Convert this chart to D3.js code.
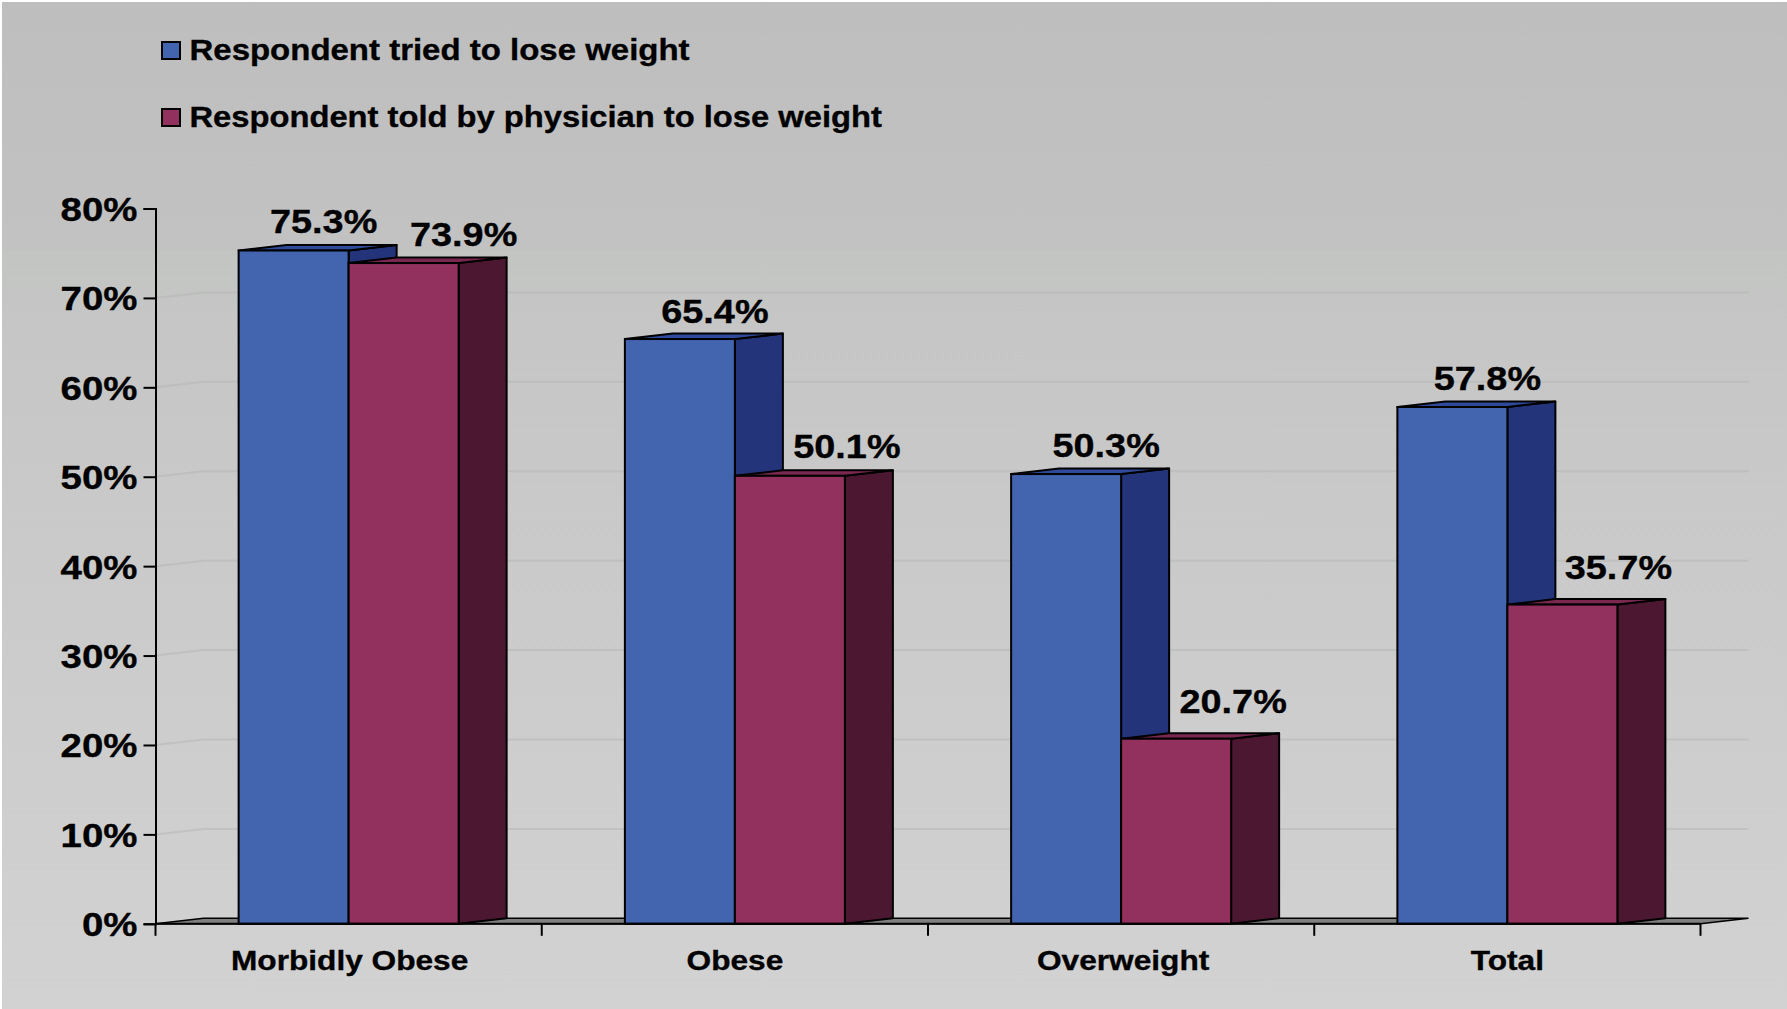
<!DOCTYPE html>
<html lang="en">
<head>
    <meta charset="UTF-8">
    <title>Weight loss attempts</title>
    <script src="https://cdn.jsdelivr.net/npm/d3@7"></script>
    <style>
        html, body { margin: 0; padding: 0; background: #fff; overflow: hidden; }
        svg { display: block; }
        text { font-family: "Liberation Sans", Arial, sans-serif; font-weight: bold; fill: #000; stroke: #000; stroke-width: 0.35; }
    </style>
</head>
<body>
    <div id="chart"></div>
    <script>
        const categories = ['Morbidly Obese', 'Obese', 'Overweight', 'Total'];
        const seriesNames = ['Respondent tried to lose weight', 'Respondent told by physician to lose weight'];
        const triedValues = [75.3, 65.4, 50.3, 57.8];
        const toldValues = [73.9, 50.1, 20.7, 35.7];
        const yTicks = [0, 10, 20, 30, 40, 50, 60, 70, 80];

        // front, side and top faces of each series
        const frontColors = ['#4364ae', '#92305e'];
        const sideColors = ['#24347a', '#4c1730'];
        const topColors = ['#2f4a9a', '#7a2850'];

        // labels in the picture do not sit at a fixed place over the bars
        const labelShift = [[30, 35, 40, 35], [60, 57, 57, 56]];
        const labelLift = [[1, -1, 0, 0], [0, 1, 9, 9]];
        const categoryShift = [1, 0, 2, 0];
        const legendStretch = [1.137, 1.128];

        const width = 1787, height = 1009;
        const plotLeft = 155.5, plotRight = 1700.5, plotBottom = 923.8, plotTop = 208.5;
        const depthX = 48, depthY = 5.5;
        const stretch = 1.13; // the original picture is wider than it should be

        const svg = d3.select('#chart').append('svg')
            .attr('width', width)
            .attr('height', height);

        // there is a faint step in the background just above the 70% line
        const grad = svg.append('defs').append('linearGradient')
            .attr('id', 'bg')
            .attr('x1', 0).attr('y1', 0).attr('x2', 0).attr('y2', 1);
        grad.append('stop').attr('offset', '0%').attr('stop-color', '#bebebe');
        grad.append('stop').attr('offset', '24.6%').attr('stop-color', '#c2c2c2');
        grad.append('stop').attr('offset', '24.7%').attr('stop-color', '#c3c5c3');
        grad.append('stop').attr('offset', '33%').attr('stop-color', '#c5c6c5');
        grad.append('stop').attr('offset', '100%').attr('stop-color', '#d2d2d2');

        svg.append('rect')
            .attr('x', 2).attr('y', 2)
            .attr('width', width - 2).attr('height', height - 2)
            .attr('fill', 'url(#bg)');

        const x = d3.scaleBand().domain(categories).range([plotLeft, plotRight]);
        const barWidth = 110;
        const y = d3.scaleLinear().domain([0, 80]).range([plotBottom, plotTop]);

        // gridlines with the short slanted piece on the left wall, 80% is not visible
        svg.append('g').selectAll('path')
            .data(yTicks.slice(1, -1))
            .enter()
            .append('path')
            .attr('d', d => `M${plotLeft},${y(d)}L${plotLeft + depthX},${y(d) - depthY}L${plotRight + depthX},${y(d) - depthY}`)
            .attr('fill', 'none')
            .attr('stroke', '#b4b6b4')
            .attr('stroke-opacity', 0.5)
            .attr('stroke-width', 2);

        // floor
        svg.append('path')
            .attr('d', `M${plotLeft},${plotBottom}L${plotLeft + depthX},${plotBottom - depthY}L${plotRight + depthX},${plotBottom - depthY}L${plotRight},${plotBottom}Z`)
            .attr('fill', '#808080')
            .attr('stroke', '#000')
            .attr('stroke-width', 1.5);

        const allValues = [triedValues, toldValues];

        allValues.forEach((values, s) => {
            const bars = svg.append('g').selectAll('g')
                .data(values)
                .enter()
                .append('g');

            const x0 = (d, i) => x(categories[i]) + x.bandwidth() / 2 - barWidth + s * barWidth;

            // side
            bars.append('path')
                .attr('d', (d, i) => {
                    const a = x0(d, i) + barWidth;
                    return `M${a},${y(d)}L${a + depthX},${y(d) - depthY}L${a + depthX},${plotBottom - depthY}L${a},${plotBottom}Z`;
                })
                .attr('fill', sideColors[s]);

            // top
            bars.append('path')
                .attr('d', (d, i) => {
                    const a = x0(d, i);
                    return `M${a},${y(d)}L${a + depthX},${y(d) - depthY}L${a + barWidth + depthX},${y(d) - depthY}L${a + barWidth},${y(d)}Z`;
                })
                .attr('fill', topColors[s]);

            bars.selectAll('path')
                .attr('stroke', '#000')
                .attr('stroke-width', 2)
                .attr('stroke-linejoin', 'round');

            // front
            bars.append('rect')
                .attr('x', x0)
                .attr('y', d => y(d))
                .attr('width', barWidth)
                .attr('height', d => plotBottom - y(d))
                .attr('fill', frontColors[s])
                .attr('stroke', '#000')
                .attr('stroke-width', 2);
        });

        // data labels go on top of every bar
        allValues.forEach((values, s) => {
            svg.append('g').selectAll('text')
                .data(values)
                .enter()
                .append('text')
                .attr('text-anchor', 'middle')
                .attr('font-size', 33.5)
                .attr('transform', (d, i) => {
                    const cx = x(categories[i]) + x.bandwidth() / 2 - barWidth / 2 + s * barWidth + labelShift[s][i];
                    return `translate(${cx},${y(d) - 17 - labelLift[s][i]}) scale(${stretch},1)`;
                })
                .text(d => d.toFixed(1) + '%');
        });

        // y axis
        const yAxis = svg.append('g')
            .attr('transform', `translate(${plotLeft},0)`)
            .call(d3.axisLeft(y).tickValues(yTicks).tickSize(12).tickFormat(d => d + '%'));
        yAxis.selectAll('path, line').attr('stroke', '#000').attr('stroke-width', 2);
        yAxis.selectAll('text')
            .attr('x', null).attr('dy', null)
            .attr('font-size', 34)
            .attr('text-anchor', 'end')
            .attr('transform', `translate(-18,12) scale(${stretch},1)`);
        yAxis.attr('font-family', null).attr('font-size', null);

        // x axis: ticks between the categories, names in the middle
        const xTicks = categories.map(c => x(c)).concat(plotRight);
        svg.append('g').selectAll('line')
            .data(xTicks)
            .enter()
            .append('line')
            .attr('x1', d => d).attr('x2', d => d)
            .attr('y1', plotBottom).attr('y2', plotBottom + 12)
            .attr('stroke', '#000')
            .attr('stroke-width', 2);
        svg.append('line')
            .attr('x1', plotLeft).attr('x2', plotRight)
            .attr('y1', plotBottom).attr('y2', plotBottom)
            .attr('stroke', '#000')
            .attr('stroke-width', 2);

        svg.append('g').selectAll('text')
            .data(categories)
            .enter()
            .append('text')
            .attr('text-anchor', 'middle')
            .attr('font-size', 28)
            .attr('transform', (d, i) => `translate(${x(d) + x.bandwidth() / 2 + categoryShift[i]},970) scale(${stretch},1)`)
            .text(d => d);

        // legend
        const legend = svg.append('g').selectAll('g')
            .data(seriesNames)
            .enter()
            .append('g')
            .attr('transform', (d, i) => `translate(162,${42 + i * 67})`);
        legend.append('rect')
            .attr('width', 18).attr('height', 17)
            .attr('fill', (d, i) => frontColors[i])
            .attr('stroke', '#000')
            .attr('stroke-width', 2);
        legend.append('text')
            .attr('font-size', 29)
            .attr('transform', (d, i) => `translate(27.5,18) scale(${legendStretch[i]},1)`)
            .text(d => d);
    </script>
</body>
</html>
